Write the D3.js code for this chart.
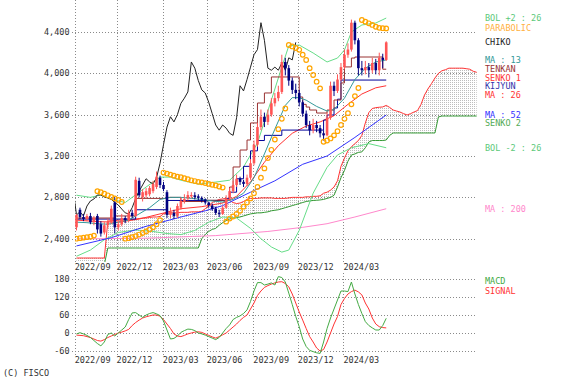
<!DOCTYPE html>
<html><head><meta charset="utf-8">
<script src="https://cdn.jsdelivr.net/npm/d3@7"></script>
<style>
body{margin:0;background:#fff;}
svg{display:block;}
text{font-family:"DejaVu Sans Mono","Liberation Mono",monospace;font-size:8.5px;}
</style></head><body>
<svg id="c" width="575" height="389"></svg>
<script>
// ---------------- DATA ----------------
const tickIdx = [-0.5, 11.5, 24.8, 37.4, 50.8, 63.6, 76.7];
const tickLabels = ["2022/09","2022/12","2023/03","2023/06","2023/09","2023/12","2024/03"];
const priceTicks = [2400, 2800, 3200, 3600, 4000, 4400];
const macdTicks = [-60, 0, 60, 120, 180];

const open = [2510,2680,2610,2590,2620,2560,2620,2540,2460,2530,2560,2750,2510,2540,2600,2580,2650,2620,2960,2800,2820,2830,2860,2900,2990,2920,2850,
 2630,2650,2620,2700,2760,2790,2810,2820,2810,2795,2780,2750,2720,2690,2650,2640,2700,2790,2860,2920,2980,2950,2930,2990,3130,3310,3480,3580,3530,3600,3710,3760,3820,4110,4050,3930,3840,3810,3720,3610,3500,3450,3500,3470,3420,3400,3570,3880,3830,3940,4060,4180,4230,4490,4320,4050,4030,4060,4030,4100,4030,4150,4130];
const close = [2630,2610,2590,2620,2560,2600,2490,2450,2530,2560,2690,2510,2540,2600,2580,2650,2620,2970,2820,2850,2860,2890,2930,3000,2920,2880,2630,
 2660,2620,2716,2765,2784,2823,2823,2803,2795,2780,2750,2726,2687,2650,2640,2700,2790,2860,2920,2980,2950,2930,2990,3130,3310,3480,3580,3530,3600,3710,3760,3820,4110,4050,3930,3840,3810,3720,3610,3500,3450,3500,3470,3420,3400,3570,3880,3830,3940,4060,4180,4230,4490,4320,4050,4030,4060,4030,4100,4030,4150,4130,4300];
const high = [2640,2700,2640,2640,2650,2620,2640,2570,2560,2590,2720,2800,2570,2640,2620,2680,2680,3000,2990,2880,2890,2910,2960,3050,3010,2950,2870,
 2700,2680,2740,2800,2830,2860,2850,2850,2830,2810,2790,2760,2740,2710,2680,2720,2820,2890,2960,3020,3000,2970,3020,3170,3350,3520,3650,3620,3650,3760,3810,3880,4180,4150,4080,3960,3900,3840,3740,3640,3540,3560,3540,3500,3450,3620,3920,3920,3990,4100,4230,4290,4520,4510,4340,4120,4120,4100,4150,4140,4200,4190,4310];
const low = [2480,2590,2570,2570,2540,2530,2450,2420,2440,2500,2540,2450,2480,2520,2550,2560,2600,2610,2800,2760,2790,2810,2840,2880,2890,2860,2600,
 2600,2590,2600,2680,2740,2770,2790,2780,2770,2750,2730,2700,2670,2630,2610,2630,2690,2770,2840,2900,2920,2900,2910,2970,3110,3290,3450,3480,3500,3580,3680,3730,3800,3980,3880,3800,3750,3680,3580,3470,3400,3420,3430,3380,3350,3390,3550,3780,3810,3920,4040,4150,4210,4280,3980,3980,3990,3960,4000,3990,3980,4050,4120];

// moving averages / bands as [week index, value]
const ma13 = [[0,2560],[3,2555],[6,2545],[9,2540],[12,2560],[15,2580],[18,2640],[21,2700],[24,2780],[27,2800],[30,2800],[33,2790],[36,2780],[39,2765],[42,2755],[45,2780],[48,2840],[51,2990],[54,3220],[57,3460],[60,3690],[62,3765],[64,3765],[66,3740],[69,3680],[72,3635],[74,3650],[77,3760],[80,3940],[83,4050],[86,4110],[89,4130]];
const ma26 = [[0,2580],[6,2565],[12,2560],[18,2590],[24,2640],[30,2690],[36,2710],[42,2745],[46,2810],[50,2950],[54,3140],[58,3300],[62,3420],[66,3490],[70,3530],[74,3590],[78,3700],[82,3800],[86,3860],[89,3880]];
const ma52 = [[0,2330],[10,2410],[20,2520],[30,2610],[37,2670],[42,2720],[50,2850],[57,2960],[65,3120],[72,3200],[80,3380],[89,3597]];
const ma200 = [[0,2398],[20,2405],[40,2430],[55,2470],[65,2510],[72,2545],[80,2610],[89,2690]];
const bolUp = [[0,2821],[4,2800],[7,2823],[10,2782],[14,2750],[20,2900],[24,2996],[27,2996],[30,2966],[35,2928],[40,2948],[44,2966],[48,3094],[52,3325],[56,3742],[59,4061],[61,4265],[64,4274],[68,4197],[72,4110],[75,4148],[77,4226],[79,4400],[82,4468],[86,4487],[89,4535]];
const bolDn = [[0,2230],[4,2290],[8,2390],[12,2460],[17,2485],[22,2470],[26,2450],[30,2440],[34,2480],[38,2560],[42,2610],[46,2600],[50,2500],[53,2400],[56,2320],[59,2270],[61,2290],[64,2480],[68,2840],[72,3090],[75,3210],[79,3280],[84,3320],[89,3280]];
// ichimoku: step lines [start week, value]
const tenkan = [[0,2600],[11,2620],[17,2790],[26,2800],[30,2760],[37,2772],[44,2900],[45,3094],[47,3258],[49,3355],[50,3520],[52,3713],[54,3810],[56,3965],[64,3771],[65,3700],[66,3674],[67,3645],[69,3616],[72,3645],[74,3742],[76,3907],[77,4062],[79,4148],[80,4158],[88,4040],[89,4040]];
const kijun = [[0,2590],[17,2680],[26,2770],[43,2790],[44,2850],[46,2980],[48,3100],[50,3250],[52,3350],[54,3400],[59,3451],[71,3548],[72,3597],[74,3665],[75,3750],[76,3935],[89,3935]];
// leading spans, weeks 0..115 (26 weeks ahead)
const senkou1 = [2213,2213,2213,2213,2213,2213,2213,2213,2213,
 2570,2575,2575,2580,2580,2580,2585,2585,
 2590,2595,2600,2600,2605,2610,2610,2615,
 2640,2645,2650,2650,2650,2655,2655,2655,2660,2660,2660,2665,
 2690,2720,2750,2765,2780,2785,2790,2770,2750,2740,2745,2760,2780,2790,
 2790,2790,2795,2795,2795,2795,2790,2790,2790,2790,2795,2800,2800,2800,2800,2805,2805,2810,2810,2815,
 2840,2850,2870,2900,2960,3100,3180,3250,3290,3320,3350,3400,3520,3620,3660,3668,3672,3675,3690,
 3670,3645,3635,3625,3610,3597,3610,3626,3640,3700,3790,3850,3900,3955,4000,4025,4035,4050,4050,4050,4050,4050,4045,4040,4020,4010];
const senkou2 = [2150,2150,2150,2150,2150,2150,2150,2150,2150,
 2310,2310,2310,2310,2310,2310,2310,2310,2310,2310,2310,2310,2310,2310,2310,2310,2310,2310,2310,2310,2310,2310,2310,2310,2310,2310,2310,
 2400,2440,2470,2490,2500,2530,2555,2575,2590,2600,2605,2610,2620,2630,2640,
 2645,2650,2650,2655,2660,2670,2675,2680,2690,2700,2710,2720,2730,2740,2750,2760,2765,2770,2772,2775,
 2780,2790,2800,2820,2900,2990,3060,3150,3210,3220,3235,3240,3280,3336,3350,3350,3350,3350,3355,
 3400,3423,3423,3423,3423,3423,3423,3423,3423,3423,3423,3423,3423,3423,3578,3587,3587,3587,3587,3587,3587,3587,3587,3587,3587,3587];
const parabolic = [2400,2405,2410,2415,2420,2430,
 2860,2850,2835,2820,2805,2790,2775,2755,
 2400,2405,2415,2425,2440,2455,2470,2490,2510,2540,2580,
 3040,3030,3020,3010,3000,2995,2985,2975,2965,2958,2950,2945,2938,2930,2922,2915,2905,2895,
 2565,2595,2615,2640,2670,2710,2750,2790,2840,2900,2990,3080,3180,3260,3360,3460,3560,3660,
 4274,4260,4245,4228,4180,4129,4050,3984,3919,3855,
 3338,3350,3370,3400,3440,3500,3560,3615,3700,3780,3858,
 4516,4500,4484,4468,4451,4440,4437,4435];
const macd = [-3,1,-3,-8,-15,-25,-35,-43,-30,-5,0,-10,0,10,20,45,67,68,60,52,60,65,68,64,58,40,10,-20,-18,-10,2,8,13,12,8,0,-3,-7,-12,-17,-22,-15,0,15,27,45,52,57,65,77,105,140,168,168,160,163,167,160,188,185,170,133,95,55,21,-20,-45,-58,-62,-66,-68,-30,15,50,80,110,140,140,138,170,130,95,65,38,25,17,10,10,25,49];
const signal = [-7,-8,-9,-12,-15,-20,-25,-27,-22,-15,-10,-5,0,3,7,12,25,35,43,50,54,57,60,60,56,45,30,15,-3,-10,-12,-8,-3,0,3,4,2,-3,-8,-13,-17,-12,-6,0,10,20,30,42,52,60,80,100,125,140,152,158,163,167,170,171,165,154,130,100,70,43,15,-12,-30,-50,-60,-55,-30,0,30,55,95,115,130,138,143,137,127,100,80,50,30,21,18,17];

// ---------------- CHART ----------------
const svg = d3.select("#c");
const X0 = 75, X1 = 475, YT = 0, YB = 262, MT = 273, MB = 357;
const x = d3.scaleLinear().domain([0, 115]).range([76.5, 476.7]);
const y = d3.scaleLinear().domain([2400, 4400]).range([238.7, 32]);
const ym = d3.scaleLinear().domain([-60, 180]).range([351, 279]);

const C = {bol:"#66dd88", bolT:"#5cc97a", par:"#ffa500", parT:"#ffb040", chiko:"#222", ma13:"#339999", tenkan:"#993333",
  s1:"#ff3333", kijun:"#000099", kijunT:"#3333aa", ma26:"#ff3333", ma52:"#3333ff", s2:"#339933", s2T:"#55aa55", ma200:"#ff88cc",
  up:"#ff5555", dn:"#000080", macd:"#44aa44", sig:"#ff3333", grid:"#8a8a8a"};

const defs = svg.append("defs");
defs.append("clipPath").attr("id","clipM").append("rect").attr("x",X0).attr("y",YT).attr("width",X1-X0+2).attr("height",YB-YT);
defs.append("clipPath").attr("id","clipD").append("rect").attr("x",X0).attr("y",MT).attr("width",X1-X0).attr("height",MB-MT);
const pat = defs.append("pattern").attr("id","hatch").attr("patternUnits","userSpaceOnUse").attr("width",2).attr("height",2);
pat.append("rect").attr("x",0).attr("y",0).attr("width",1).attr("height",1).attr("fill","#bdbdbd").attr("shape-rendering","crispEdges");

const grid = svg.append("g").attr("stroke", C.grid).attr("stroke-width",1).attr("stroke-dasharray","1,2").attr("fill","none");
tickIdx.forEach(t => {
  const xx = Math.round(x(t)) + 0.5;
  grid.append("line").attr("x1",xx).attr("x2",xx).attr("y1",YT).attr("y2",YB);
  grid.append("line").attr("x1",xx).attr("x2",xx).attr("y1",MT).attr("y2",MB);
});
priceTicks.forEach(v => {
  const yy = Math.round(y(v)) + 0.5;
  grid.append("line").attr("x1",72).attr("x2",X1).attr("y1",yy).attr("y2",yy);
});
macdTicks.forEach(v => {
  const yy = Math.round(ym(v)) + 0.5;
  grid.append("line").attr("x1",72).attr("x2",X1).attr("y1",yy).attr("y2",yy);
});

const lab = svg.append("g").attr("fill","#333");
priceTicks.forEach(v => lab.append("text").attr("x",69.5).attr("y",y(v)).attr("dy","0.35em").attr("text-anchor","end").text(d3.format(",")(v)));
macdTicks.forEach(v => lab.append("text").attr("x",69.5).attr("y",ym(v)).attr("dy","0.35em").attr("text-anchor","end").text(v));
tickIdx.forEach((t,k) => {
  lab.append("text").attr("x",x(t)).attr("y",267).attr("dy","0.35em").text(tickLabels[k]);
  lab.append("text").attr("x",x(t)).attr("y",360).attr("dy","0.35em").text(tickLabels[k]);
});
lab.append("text").attr("x",3).attr("y",373).attr("dy","0.35em").text("(C) FISCO");

const main = svg.append("g").attr("clip-path","url(#clipM)");
const idx = d3.range(senkou1.length);
main.append("path").datum(idx)
  .attr("d", d3.area().x(i => x(i)).y0(i => y(senkou1[i])).y1(i => y(senkou2[i])))
  .attr("fill","url(#hatch)");
const lineIdx = (arr, col) => main.append("path").datum(d3.range(arr.length))
  .attr("d", d3.line().x(i => x(i)).y(i => y(arr[i]))).attr("fill","none").attr("stroke",col).attr("stroke-width",1);
const linePairs = (arr, col, curve) => main.append("path").datum(arr)
  .attr("d", d3.line().curve(curve || d3.curveLinear).x(d => x(d[0])).y(d => y(d[1]))).attr("fill","none").attr("stroke",col).attr("stroke-width",1);
lineIdx(senkou1, C.s1);
lineIdx(senkou2, C.s2);
linePairs(ma200, C.ma200);
linePairs(bolUp, C.bol);
linePairs(bolDn, C.bol);
linePairs(ma52, C.ma52);
linePairs(ma26, C.ma26);
linePairs(kijun, C.kijun, d3.curveStepAfter);
linePairs(tenkan, C.tenkan, d3.curveStepAfter);
linePairs(ma13, C.ma13);
main.append("path").datum(d3.range(close.length))
  .attr("d", d3.line().x(i => x(i - 26)).y(i => y(close[i]))).attr("fill","none").attr("stroke",C.chiko).attr("stroke-width",1);

const cg = main.append("g");
close.forEach((c,i) => {
  const up = c >= open[i];
  const col = up ? C.up : C.dn;
  cg.append("line").attr("x1",x(i)).attr("x2",x(i)).attr("y1",y(high[i])).attr("y2",y(low[i])).attr("stroke",col).attr("stroke-width",1);
  const top = y(Math.max(c, open[i])), bot = y(Math.min(c, open[i]));
  cg.append("rect").attr("x",x(i)-1.3).attr("width",2.6).attr("y",top).attr("height",Math.max(1,bot-top)).attr("fill",col);
});
main.append("g").selectAll("circle").data(parabolic).join("circle")
  .attr("cx",(d,i)=>x(i)).attr("cy",d=>y(d)).attr("r",2.3).attr("fill","none").attr("stroke",C.par).attr("stroke-width",1.2);

const mg = svg.append("g").attr("clip-path","url(#clipD)");
mg.append("path").datum(signal).attr("d", d3.line().x((d,i)=>x(i)).y(d=>ym(d))).attr("fill","none").attr("stroke",C.sig);
mg.append("path").datum(macd).attr("d", d3.line().x((d,i)=>x(i)).y(d=>ym(d))).attr("fill","none").attr("stroke",C.macd);

// legends: placed at each series' last value, nudged apart so they do not collide
const last = a => Array.isArray(a[a.length-1]) ? a[a.length-1][1] : a[a.length-1];
const legend = [
  ["BOL +2 : 26", C.bolT, last(bolUp)],
  ["PARABOLIC", C.parT, last(parabolic)],
  ["CHIKO", C.chiko, last(close)],
  ["MA : 13", C.ma13, last(ma13)],
  ["TENKAN", C.tenkan, last(tenkan)],
  ["SENKO 1", C.s1, last(senkou1)],
  ["KIJYUN", C.kijunT, last(kijun)],
  ["MA : 26", C.ma26, last(ma26)],
  ["MA : 52", C.ma52, last(ma52)],
  ["SENKO 2", C.s2T, last(senkou2)],
  ["BOL -2 : 26", C.bolT, last(bolDn)],
  ["MA : 200", C.ma200, last(ma200)]
].map(d => ({t:d[0], col:d[1], yy:y(d[2])})).sort((a,b) => a.yy - b.yy);
const gap = 8.5;
for (let k = 1; k < legend.length; k++) if (legend[k].yy < legend[k-1].yy + gap) legend[k].yy = legend[k-1].yy + gap;
legend.forEach(d => svg.append("text").attr("x",485).attr("y",d.yy).attr("dy","0.35em").attr("fill",d.col).text(d.t));
svg.append("text").attr("x",485).attr("y",281).attr("dy","0.35em").attr("fill",C.macd).text("MACD");
svg.append("text").attr("x",485).attr("y",291).attr("dy","0.35em").attr("fill",C.sig).text("SIGNAL");
</script>
</body></html>
